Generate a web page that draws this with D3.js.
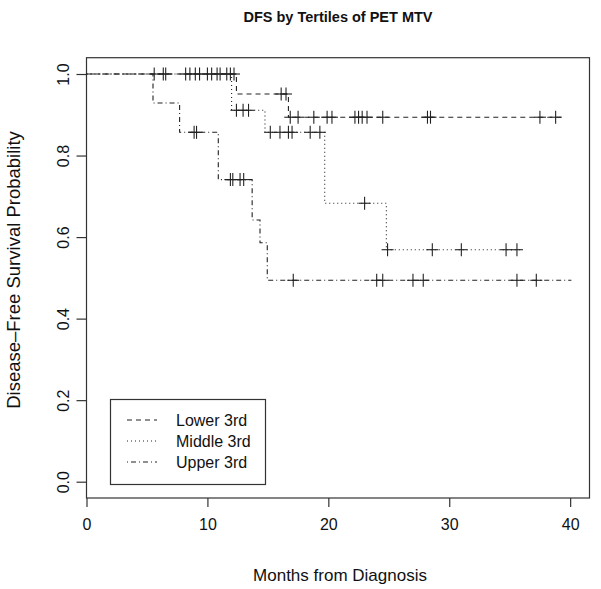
<!DOCTYPE html>
<html><head><meta charset="utf-8">
<script src="https://cdn.jsdelivr.net/npm/d3@7"></script>
<style>body{margin:0;background:#fff}svg{display:block}text{font-family:"Liberation Sans",Arial,Helvetica,sans-serif;fill:#111}</style>
</head><body>
<svg id="c" width="601" height="589"></svg>
<script>
// ---- data ----
const groups = ["Lower 3rd", "Middle 3rd", "Upper 3rd"];
const lowerEventTimes = [0, 12.4, 16.7];
const lowerSurvival = [1, 0.951, 0.894];
const lowerCensorTimes = [5.6, 6.35, 6.55, 8.2, 9.0, 10.0, 10.8, 11.6, 12.2, 16.1, 16.5, 16.85, 17.5, 18.8, 19.9, 20.3, 22.2, 22.5, 22.8, 23.2, 24.5, 28.2, 28.45, 37.5, 38.8];
const lowerEnd = 39.4;
const middleEventTimes = [0, 12.0, 14.76, 19.7, 24.8];
const middleSurvival = [1, 0.911, 0.857, 0.683, 0.569];
const middleCensorTimes = [8.55, 9.35, 10.35, 11.05, 11.9, 12.4, 12.95, 13.4, 15.2, 16.0, 16.7, 17.0, 18.5, 19.3, 23.0, 24.9, 28.6, 31.0, 34.7, 35.6];
const middleEnd = 36.0;
const upperEventTimes = [0, 5.5, 7.7, 10.9, 13.7, 14.35, 14.95];
const upperSurvival = [1, 0.929, 0.857, 0.741, 0.642, 0.586, 0.494];
const upperCensorTimes = [8.9, 9.1, 11.9, 12.1, 12.7, 13.0, 17.1, 24.0, 24.5, 27.0, 27.85, 35.6, 37.2];
const upperEnd = 40.1;
const xTicks = [0, 10, 20, 30, 40];
const yTicks = [0, 0.2, 0.4, 0.6, 0.8, 1.0];
const titleText = "DFS by Tertiles of PET MTV";
const xLabel = "Months from Diagnosis";
const yLabel = "Disease\u2013Free Survival Probability";

const curves = [
  {name: groups[0], t: lowerEventTimes, s: lowerSurvival, c: lowerCensorTimes, end: lowerEnd, dash: "5,4"},
  {name: groups[1], t: middleEventTimes, s: middleSurvival, c: middleCensorTimes, end: middleEnd, dash: "1,3"},
  {name: groups[2], t: upperEventTimes, s: upperSurvival, c: upperCensorTimes, end: upperEnd, dash: "1,3,5,3"}
];

const svg = d3.select("#c");
const L = 86.5, R = 589.5, T = 57.7, B = 498;
const x = d3.scaleLinear().domain([0, 41.6]).range([L, R]);
const y = d3.scaleLinear().domain([-0.04, 1.04]).range([B, T]);

function survAt(cv, t) {
  let s = cv.s[0];
  for (let i = 0; i < cv.t.length; i++) if (cv.t[i] <= t) s = cv.s[i];
  return s;
}

// frame
svg.append("rect").attr("x", L).attr("y", T).attr("width", R - L).attr("height", B - T)
  .attr("fill", "none").attr("stroke", "#333").attr("stroke-width", 1.2);

// axes
const xAxis = svg.append("g").attr("transform", `translate(0,${B})`)
  .call(d3.axisBottom(x).tickValues(xTicks).tickSize(9).tickPadding(12).tickFormat(d3.format("d")));
xAxis.select(".domain").remove();
const yAxis = svg.append("g").attr("transform", `translate(${L},0)`)
  .call(d3.axisLeft(y).tickValues(yTicks).tickSize(10).tickFormat(d3.format(".1f")));
yAxis.select(".domain").remove();
[xAxis, yAxis].forEach(g => {
  g.selectAll("line").attr("stroke", "#333").attr("stroke-width", 1.2);
  g.selectAll("text").attr("font-size", 16).attr("fill", "#111")
    .style("font-family", "'Liberation Sans', Arial, sans-serif");
});
yAxis.selectAll(".tick text").attr("transform", "rotate(-90)")
  .attr("x", 0).attr("y", -23).attr("dy", "0.35em").attr("text-anchor", "middle");

// titles
svg.append("text").attr("x", (L + R) / 2).attr("y", 22).attr("text-anchor", "middle")
  .attr("font-size", 14.5).attr("font-weight", "bold").text(titleText);
svg.append("text").attr("x", (L + R) / 2 + 2).attr("y", 581).attr("text-anchor", "middle")
  .attr("font-size", 17).text(xLabel);
svg.append("text").attr("transform", `translate(20,270) rotate(-90)`).attr("text-anchor", "middle")
  .attr("font-size", 18.5).text(yLabel);

// curves
const line = d3.line().curve(d3.curveStepAfter).x(d => x(d[0])).y(d => y(d[1]));
curves.forEach(cv => {
  const pts = cv.t.map((t, i) => [t, cv.s[i]]);
  pts.push([cv.end, cv.s[cv.s.length - 1]]);
  svg.append("path").attr("d", line(pts)).attr("fill", "none")
    .attr("stroke", "#222").attr("stroke-width", 1.1).attr("stroke-dasharray", cv.dash);
  const g = svg.append("g");
  cv.c.forEach(t => {
    const cx = x(t), cy = y(survAt(cv, t));
    g.append("line").attr("x1", cx - 6).attr("x2", cx + 6).attr("y1", cy).attr("y2", cy).attr("stroke", "#222").attr("stroke-width", 1.1);
    g.append("line").attr("x1", cx).attr("x2", cx).attr("y1", cy - 6.5).attr("y2", cy + 6.5).attr("stroke", "#222").attr("stroke-width", 1.1);
  });
});

// legend
const lg = svg.append("g");
lg.append("rect").attr("x", 110.5).attr("y", 399.5).attr("width", 155).attr("height", 85)
  .attr("fill", "#fff").attr("stroke", "#333").attr("stroke-width", 1.2);
curves.forEach((cv, i) => {
  const yy = 420 + i * 21;
  lg.append("line").attr("x1", 127).attr("x2", 157).attr("y1", yy).attr("y2", yy)
    .attr("stroke", "#222").attr("stroke-width", 1.1).attr("stroke-dasharray", cv.dash);
  lg.append("text").attr("x", 176).attr("y", yy).attr("dy", "0.35em").attr("font-size", 16).text(cv.name);
});
</script>
</body></html>
